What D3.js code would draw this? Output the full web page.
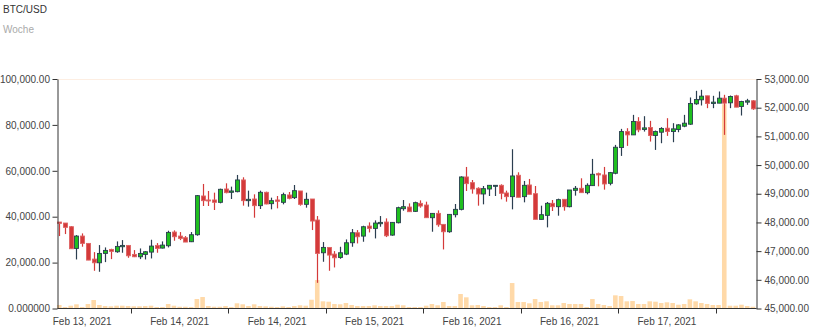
<!DOCTYPE html>
<html>
<head>
<meta charset="utf-8">
<script src="https://cdn.jsdelivr.net/npm/d3@7"></script>
<style>
  body { margin: 0; background: #fff; }
  svg { display: block; font-family: "Liberation Sans", Arial, Helvetica, sans-serif; }
</style>
</head>
<body>
<svg id="chart" width="816" height="334"></svg>
<script>
// BTC/USD candles, oldest first
const open = [48014,47979,47851,47094,47525,47269,46722,46594,46920,47060,
  46978,47153,47199,46885,46803,46885,46966,47199,47106,47188,
  47665,47525,47467,47327,47572,48922,48783,48783,48701,49166,
  49050,49073,49481,48759,48817,48585,49050,48654,48783,48701,
  48957,48864,49097,48631,48817,48084,46943,47129,46896,46780,
  46896,47292,47641,47524,47874,47792,47955,48014,47559,47990,
  48479,48537,48386,48665,48607,48165,48316,47932,47676,48270,
  48456,49585,49387,49190,48992,49166,49271,49294,49027,48899,
  49644,48899,49306,49003,48107,48247,48666,48549,48806,48549,
  49120,49190,49038,49283,49702,49655,49364,49714,50610,51168,
  51052,51518,51238,51308,51029,51145,51285,51168,51238,51355,
  51425,52135,52274,52414,52146,52158,52332,52170,52414,52042,
  52193,52240];

const high = [48014,47979,47874,47560,47618,47269,46966,47211,47129,47083,
  47339,47385,47211,47036,47094,47001,47397,47281,47339,47711,
  47723,47665,47525,47665,48957,49341,49097,49038,49178,49364,
  49248,49655,49574,49108,48980,49108,49073,48864,48922,49038,
  49062,49306,49097,49038,48817,48223,47316,47129,47001,47152,
  47408,47769,47734,47885,48002,48072,48223,48142,48002,48549,
  48782,48665,48724,48770,48724,48316,48421,47932,48281,48642,
  49608,49934,49480,49225,49271,49294,49294,49329,49108,50552,
  49748,49446,49516,49271,48584,48712,48782,48829,48806,49131,
  49271,49539,49364,50214,49737,49935,49760,50703,51262,51285,
  51750,51669,51704,51541,51203,51320,51634,51460,51425,51750,
  52356,52588,52623,52414,52414,52565,52449,52425,52449,52240,
  52309,52263];

const low = [47525,47595,47083,46710,47153,46687,46315,46280,46617,46722,
  46943,46943,46768,46792,46722,46710,46745,46943,47094,47129,
  47362,47385,47316,47316,47537,48573,48573,48433,48666,49015,
  48817,49050,48585,48550,48165,48468,48631,48457,48491,48631,
  48806,48817,48585,48515,47735,45895,46629,46315,46431,46733,
  46861,47152,47268,47327,47652,47443,47850,47490,47536,47967,
  48409,48374,48363,48514,48165,47676,47850,47059,47641,48176,
  48421,49096,49003,48584,48631,48922,48922,48806,48724,48456,
  48876,48701,48980,48107,48107,47828,48398,48235,48410,48526,
  48934,49038,48980,49283,49259,49143,49294,49679,50319,50668,
  51052,51145,51168,50819,50528,50761,51017,50796,51145,51320,
  51401,52100,52076,51983,51983,52158,51052,51983,52018,51727,
  52100,51925];

const close = [47967,47828,47083,47525,47269,46687,46594,46920,47025,46990,
  47164,47199,46838,46803,46920,46978,47176,47094,47211,47653,
  47502,47444,47316,47572,48934,48759,48759,48701,49155,49038,
  49097,49481,48759,48806,48585,49050,48643,48759,48736,48969,
  48841,49108,48631,48806,48049,46920,47129,46862,46768,46943,
  47292,47641,47501,47850,47792,47979,48002,47536,48002,48514,
  48549,48374,48689,48572,48165,48316,47920,47676,48281,48456,
  49585,49352,49166,48992,49178,49294,49294,49015,48899,49620,
  48876,49294,48980,48107,48270,48666,48549,48794,48549,49131,
  49190,49038,49294,49679,49655,49341,49737,50621,51168,51052,
  51518,51226,51296,51029,51168,51273,51168,51262,51401,51460,
  52146,52286,52402,52146,52193,52332,52158,52391,52018,52216,
  52240,51960];

const volume = [1520,650,1220,1830,650,1960,3700,1520,1090,960,
  1220,1220,1090,960,960,1090,1220,650,650,1960,
  1220,780,780,650,4130,5000,1090,780,780,1090,
  650,2260,1830,1090,1830,1090,960,780,650,960,
  650,1090,1390,1220,3830,12400,3130,2960,1960,1830,
  2390,1520,1090,1090,1090,1390,1090,1090,1090,1650,
  1390,650,650,650,1220,1960,1390,2830,1090,1090,
  6310,4870,1390,1520,1090,650,650,1390,650,11090,
  2830,2830,2260,4130,2830,3130,1390,1390,2390,1960,
  1960,1960,650,4130,1960,1520,1090,5740,5440,3130,
  3260,1960,1960,3130,2960,2390,2700,2390,1650,1960,
  4000,3130,2390,1960,1520,1520,89000,1220,1220,1650,
  1090,780];

// Date labels and the candle each one is centred on
const dateLabels = ["Feb 13, 2021","Feb 14, 2021","Feb 14, 2021","Feb 15, 2021",
  "Feb 16, 2021","Feb 16, 2021","Feb 17, 2021"];
const dateLabelCandles = [4, 21, 38, 55, 72, 89, 106];
// Tick marks sit on candle boundaries (start of these candles)
const dateTickCandles = [13, 30, 47, 64, 81, 98, 115];

const volumeTicks = [0, 20000, 40000, 60000, 80000, 100000];
const volumeTickLabels = ["0.000000","20,000.00","40,000.00","60,000.00","80,000.00","100,000.00"];
const priceTicks = [45000,46000,47000,48000,49000,50000,51000,52000,53000];
const priceTickLabels = ["45,000.00","46,000.00","47,000.00","48,000.00","49,000.00",
  "50,000.00","51,000.00","52,000.00","53,000.00"];

const title = "BTC/USD";
const subtitle = "Woche";

// ---- layout ----
const plotLeft = 57.5, plotRight = 756.5, plotTop = 79, plotBottom = 308.5;
const RED = "#d43a3a", GREEN = "#1fbf1f", DARK = "#2b3e50", VOL = "#ffd9a8";

const svg = d3.select("#chart");

const idx = d3.range(open.length);
const x = d3.scaleBand().domain(idx).range([56.4, 755.8]).paddingInner(0).paddingOuter(0);
const step = x.step();
const cx = i => x(i) + step / 2;

const yPrice = d3.scaleLinear().domain([45000, 53000]).range([plotBottom, plotTop]);
const yVol = d3.scaleLinear().domain([0, 100000]).range([plotBottom, plotTop]);

// header
svg.append("text").attr("x", 3).attr("y", 12.5).attr("font-size", 10).attr("fill", "#333").text(title);
svg.append("text").attr("x", 3).attr("y", 32.5).attr("font-size", 10).attr("fill", "#aaa").text(subtitle);

// faint top line
svg.append("line").attr("x1", plotLeft).attr("x2", plotRight)
  .attr("y1", plotTop + 0.5).attr("y2", plotTop + 0.5)
  .attr("stroke", "#fdeee2").attr("stroke-width", 1);

// volume bars
const vbw = step * 0.8;
svg.append("g").selectAll("rect").data(idx).join("rect")
  .attr("x", i => cx(i) - vbw / 2)
  .attr("width", vbw)
  .attr("y", i => yVol(volume[i]))
  .attr("height", i => plotBottom - yVol(volume[i]))
  .attr("fill", VOL);

// candles
const bw = step * 0.7;
const candles = svg.append("g").selectAll("g").data(idx).join("g");
candles.append("line")
  .attr("x1", i => Math.round(cx(i)) + 0.5).attr("x2", i => Math.round(cx(i)) + 0.5)
  .attr("y1", i => yPrice(high[i])).attr("y2", i => yPrice(low[i]))
  .attr("stroke", i => close[i] < open[i] ? RED : DARK)
  .attr("stroke-width", 1.2);
candles.append("rect")
  .attr("x", i => Math.round(cx(i)) + 0.5 - bw / 2)
  .attr("width", bw)
  .attr("y", i => yPrice(Math.max(open[i], close[i])))
  .attr("height", i => Math.max(1, Math.abs(yPrice(open[i]) - yPrice(close[i]))))
  .attr("fill", i => close[i] < open[i] ? RED : GREEN)
  .attr("stroke", i => close[i] < open[i] ? "#de6464" : DARK)
  .attr("stroke-width", 0.9);

// left (volume) axis
const leftAxis = svg.append("g").attr("transform", `translate(${plotLeft},0)`)
  .call(d3.axisLeft(yVol).tickValues(volumeTicks)
    .tickFormat((d, i) => volumeTickLabels[i]).tickSize(5).tickSizeOuter(0).tickPadding(2.5));
// right (price) axis
const rightAxis = svg.append("g").attr("transform", `translate(${plotRight},0)`)
  .call(d3.axisRight(yPrice).tickValues(priceTicks)
    .tickFormat((d, i) => priceTickLabels[i]).tickSize(5).tickSizeOuter(0).tickPadding(3));

[leftAxis, rightAxis].forEach(g => {
  g.attr("font-family", null).attr("font-size", 10);
  g.selectAll("path, line").attr("stroke", "#333");
  g.selectAll("text").attr("fill", "#444");
});

// time axis
const xAxis = svg.append("g");
xAxis.append("line").attr("x1", plotLeft).attr("x2", plotRight)
  .attr("y1", plotBottom).attr("y2", plotBottom).attr("stroke", "#333");
xAxis.selectAll("line.tick").data(dateTickCandles).join("line").attr("class", "tick")
  .attr("x1", i => Math.round(x(i)) + 0.5).attr("x2", i => Math.round(x(i)) + 0.5)
  .attr("y1", plotBottom).attr("y2", plotBottom + 5).attr("stroke", "#333");
xAxis.selectAll("text").data(dateLabels).join("text")
  .attr("x", (d, k) => cx(dateLabelCandles[k]))
  .attr("y", 325)
  .attr("text-anchor", "middle")
  .attr("font-size", 10)
  .attr("fill", "#444")
  .text(d => d);
</script>
</body>
</html>
